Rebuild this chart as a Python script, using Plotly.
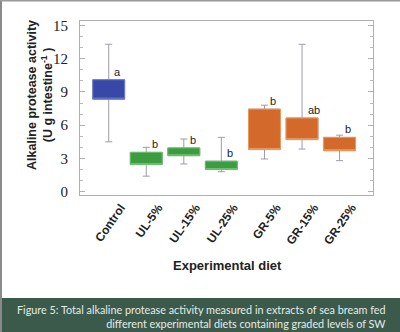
import plotly.graph_objects as go

categories = ["Control", "UL-5%", "UL-15%", "UL-25%", "GR-5%", "GR-15%", "GR-25%"]
q1 = [8.35, 2.45, 3.25, 2.0, 3.8, 4.7, 3.7]
q3 = [10.1, 3.55, 3.95, 2.75, 7.45, 6.65, 4.9]
lower = [4.5, 1.4, 2.5, 1.8, 2.95, 3.85, 2.8]
upper = [13.3, 4.0, 4.75, 4.9, 7.8, 13.3, 5.1]
letters = ["a", "b", "b", "b", "b", "ab", "b"]
y_ticks = [0, 3, 6, 9, 12, 15]

caption = ("Figure 5: Total alkaline protease activity measured in extracts of sea bream fed<br>"
           "different experimental diets containing graded levels of SW")

GAP = 0.15
pos = [i + 1 + (GAP if c.startswith("GR") else 0) for i, c in enumerate(categories)]

def colors(c):
    if c.startswith("UL"):
        return "#3c9c40", "#6cc06a"
    if c.startswith("GR"):
        return "#d4692c", "#eb9a5e"
    return "#3848a8", "#6f7ec8"

fig = go.Figure()
for i, c in enumerate(categories):
    fig.add_trace(go.Box(
        x=[pos[i]], q1=[q1[i]], median=[q1[i]], q3=[q3[i]],
        lowerfence=[lower[i]], upperfence=[upper[i]],
        width=0.85, whiskerwidth=0.22,
        line=dict(color="#9c9cae", width=1), fillcolor="#9c9cae",
        boxpoints=False, showlegend=False, hoverinfo="skip"))
for i, c in enumerate(categories):
    fill, edge = colors(c)
    fig.add_trace(go.Box(
        x=[pos[i]], q1=[q1[i]], median=[q1[i]], q3=[q3[i]],
        lowerfence=[q1[i]], upperfence=[q3[i]],
        width=0.85, whiskerwidth=0.0,
        line=dict(color=edge, width=1), fillcolor=fill,
        boxpoints=False, showlegend=False, hoverinfo="skip"))

for i, c in enumerate(categories):
    fig.add_annotation(x=pos[i] + 0.1, y=q3[i], text=letters[i], showarrow=False,
                       xanchor="left", yanchor="bottom",
                       font=dict(family="Liberation Sans", size=11, color="#222"))

L, R, T, B = 80, 27, 21, 137
W, H = 400, 332
pw, ph = W - L - R, H - T - B

def px(x):
    return (x - L) / pw

def py(y):
    return (H - B - y) / ph

fig.update_layout(
    width=W, height=H,
    margin=dict(l=L, r=R, t=T, b=B),
    paper_bgcolor="white", plot_bgcolor="white",
    boxmode="overlay",
    xaxis=dict(range=[0.235, 8.04], tickvals=[p + 0.32 for p in pos], ticktext=categories,
               tickangle=-55, ticks="", showgrid=False, zeroline=False,
               showline=True, linecolor="#b0b0b0", linewidth=1, mirror=True,
               tickfont=dict(family="Liberation Sans", size=12, color="#222", weight="bold")),
    yaxis=dict(range=[-0.3, 15.4], tickvals=y_ticks, ticks="inside", ticklen=5,
               tickcolor="#b0b0b0", showgrid=False, zeroline=False,
               showline=True, linecolor="#b0b0b0", linewidth=1, mirror="ticks",
               ticklabelstandoff=8,
               minor=dict(dtick=1, ticks="inside", ticklen=3, tickcolor="#b8b8b8"),
               tickfont=dict(family="Liberation Serif", size=15, color="#222")),
)

fig.add_annotation(xref="paper", yref="paper", x=px(40), y=py(95), textangle=-90,
                   xanchor="center", yanchor="middle",
                   text="Alkaline protease activity<br>(U g intestine<sup>-1</sup> )",
                   showarrow=False,
                   font=dict(family="Liberation Sans", size=12.5, color="#222", weight="bold"))
fig.add_annotation(xref="paper", yref="paper", x=px(227), y=py(265),
                   xanchor="center", yanchor="middle",
                   text="Experimental diet", showarrow=False,
                   font=dict(family="Liberation Sans", size=13, color="#222", weight="bold"))

fig.add_shape(type="rect", xref="paper", yref="paper", x0=px(0), x1=px(400), y0=py(298), y1=py(333),
              fillcolor="#3b5a4c", line=dict(width=0), layer="below")
fig.add_shape(type="rect", xref="paper", yref="paper", x0=px(0), x1=px(2), y0=py(0), y1=py(333),
              fillcolor="#8a8a8a", line=dict(width=0), layer="below")
fig.add_shape(type="rect", xref="paper", yref="paper", x0=px(0), x1=px(400), y0=py(0), y1=py(1.5),
              fillcolor="#9a9a9a", line=dict(width=0), layer="below")
fig.add_annotation(xref="paper", yref="paper", x=px(388), y=py(316.5), xanchor="right",
                   yanchor="middle", align="right", text=caption, showarrow=False,
                   font=dict(family="Lato", size=10.8, color="#e4ece8"))

fig.write_html("out.html")
